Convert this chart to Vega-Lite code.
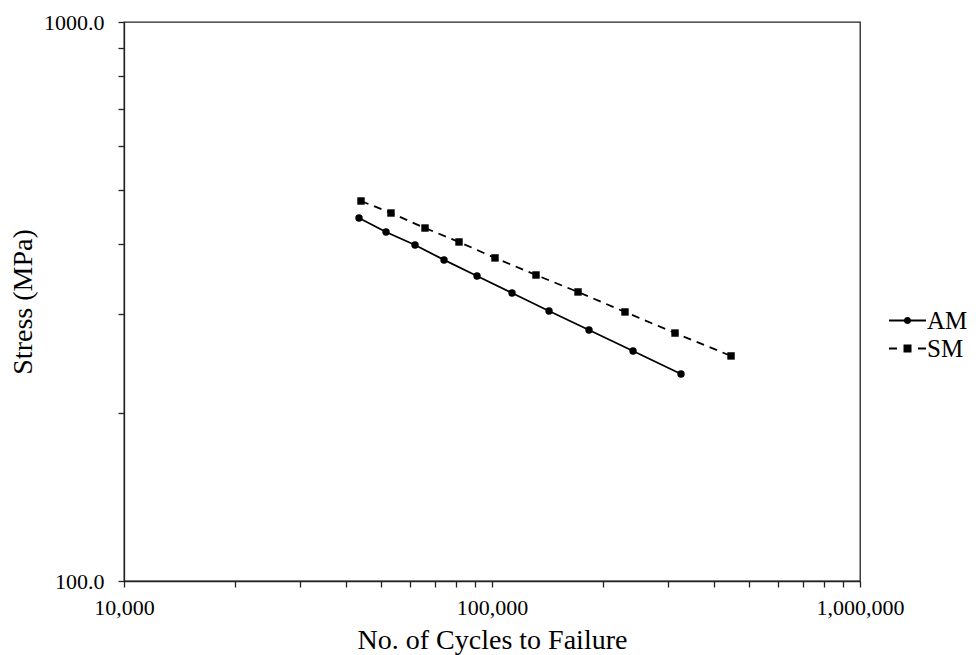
{
  "$schema": "https://vega.github.io/schema/vega-lite/v6.json",
  "width": 736,
  "height": 559,
  "autosize": {"type": "none"},
  "padding": {"left": 124, "top": 22, "right": 119, "bottom": 74},
  "background": "white",
  "config": {
    "view": {"stroke": "#222", "strokeWidth": 1.3},
    "font": "Liberation Serif",
    "axis": {
      "grid": false,
      "domainColor": "#222",
      "domainWidth": 1.3,
      "tickColor": "#222",
      "tickWidth": 1.3,
      "tickSize": 6,
      "labelFont": "Liberation Serif",
      "labelFontSize": 22,
      "labelColor": "black",
      "titleFont": "Liberation Serif",
      "titleFontSize": 28,
      "titleFontWeight": "normal",
      "titleColor": "black"
    }
  },
  "data": {
    "values": [
      {"series": "AM", "cycles": 43510, "stress": 446.1},
      {"series": "AM", "cycles": 51520, "stress": 421.1},
      {"series": "AM", "cycles": 61780, "stress": 399.1},
      {"series": "AM", "cycles": 74060, "stress": 375.3},
      {"series": "AM", "cycles": 91050, "stress": 351.3},
      {"series": "AM", "cycles": 113330, "stress": 327.5},
      {"series": "AM", "cycles": 142850, "stress": 304.1},
      {"series": "AM", "cycles": 183450, "stress": 281.2},
      {"series": "AM", "cycles": 241660, "stress": 257.9},
      {"series": "AM", "cycles": 326300, "stress": 234.6},
      {"series": "SM", "cycles": 44060, "stress": 478.4},
      {"series": "SM", "cycles": 53150, "stress": 455.3},
      {"series": "SM", "cycles": 65760, "stress": 428.0},
      {"series": "SM", "cycles": 81350, "stress": 404.1},
      {"series": "SM", "cycles": 101900, "stress": 378.4},
      {"series": "SM", "cycles": 131700, "stress": 352.7},
      {"series": "SM", "cycles": 171300, "stress": 328.9},
      {"series": "SM", "cycles": 229800, "stress": 302.9},
      {"series": "SM", "cycles": 314300, "stress": 277.7},
      {"series": "SM", "cycles": 446200, "stress": 252.7}
    ]
  },
  "encoding": {
    "x": {
      "field": "cycles",
      "type": "quantitative",
      "scale": {"type": "log", "domain": [10000, 1000000], "nice": false},
      "axis": {
        "title": "No. of Cycles to Failure",
        "values": [10000, 20000, 30000, 40000, 50000, 60000, 70000, 80000, 90000, 100000, 200000, 300000, 400000, 500000, 600000, 700000, 800000, 900000, 1000000],
        "labelExpr": "datum.value == 10000 || datum.value == 100000 || datum.value == 1000000 ? format(datum.value, ',') : ''",
        "labelPadding": 10,
        "titlePadding": 8,
        "labelFlush": false,
        "labelOverlap": false
      }
    },
    "y": {
      "field": "stress",
      "type": "quantitative",
      "scale": {"type": "log", "domain": [100, 1000], "nice": false},
      "axis": {
        "title": "Stress (MPa)",
        "values": [100, 200, 300, 400, 500, 600, 700, 800, 900, 1000],
        "labelExpr": "datum.value == 100 || datum.value == 1000 ? format(datum.value, '.1f') : ''",
        "labelPadding": 14,
        "titlePadding": 6,
        "labelFlush": false,
        "labelOverlap": false
      }
    }
  },
  "resolve": {"scale": {"shape": "independent"}},
  "layer": [
    {
      "transform": [{"filter": "datum.series == 'AM'"}],
      "mark": {"type": "line", "color": "black", "strokeWidth": 1.8}
    },
    {
      "transform": [{"filter": "datum.series == 'SM'"}],
      "mark": {"type": "line", "color": "black", "strokeWidth": 1.8, "strokeDash": [8, 6]}
    },
    {
      "mark": {"type": "point", "filled": true, "color": "black", "opacity": 1, "size": 55},
      "encoding": {
        "shape": {
          "field": "series",
          "type": "nominal",
          "scale": {"domain": ["AM", "SM"], "range": ["circle", "square"]},
          "legend": null
        }
      }
    },
    {
      "mark": {"type": "point", "filled": true, "color": "black", "size": 0},
      "encoding": {
        "shape": {
          "field": "series",
          "type": "nominal",
          "scale": {
            "domain": ["AM", "SM"],
            "range": [
              "M-3.7,-0.18H3.7V0.18H-3.7ZM-0.72,0A0.72,0.72 0 1,1 0.72,0A0.72,0.72 0 1,1 -0.72,0Z",
              "M-3.7,-0.18H-2.1V0.18H-3.7ZM2.1,-0.18H3.7V0.18H2.1ZM-0.8,-0.8H0.8V0.8H-0.8Z"
            ]
          },
          "legend": {
            "title": null,
            "orient": "none",
            "legendX": 771,
            "legendY": 286,
            "padding": 0,
            "symbolSize": 100,
            "symbolFillColor": "black",
            "symbolOpacity": 1,
            "labelOffset": 7,
            "labelFont": "Liberation Serif",
            "labelFontSize": 25,
            "labelColor": "black",
            "rowPadding": 2
          }
        }
      }
    }
  ]
}
